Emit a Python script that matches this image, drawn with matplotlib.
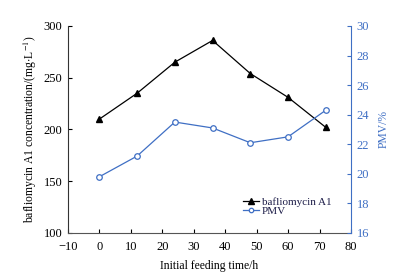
import matplotlib.pyplot as plt
import numpy as np

plt.rcParams['font.family'] = ['Liberation Serif', 'DejaVu Serif']
plt.rcParams['mathtext.fontset'] = 'stix'

# data
hours = [0, 12, 24, 36, 48, 60, 72]
bafilomycin = [210, 235, 265, 286, 254, 231, 202]
pmv = [19.8, 21.2, 23.5, 23.1, 22.1, 22.5, 24.3]

blue = "#3f6fc4"

fig = plt.figure(figsize=(4.02, 2.76), dpi=100)
ax = fig.add_axes([0.169, 0.156, 0.704, 0.75])
ax2 = ax.twinx()

l1, = ax.plot(hours, bafilomycin, color="black", lw=0.9, marker="^", ms=5,
              label="bafliomycin A1")
l2, = ax2.plot(hours, pmv, color=blue, lw=0.9, marker="o", ms=4,
               mfc="white", mec=blue, mew=0.9, label="PMV")

ax.set_xlim(-10, 80)
ax.set_ylim(100, 300)
ax.set_xticks(np.arange(-10, 81, 10))
ax.set_yticks(np.arange(100, 301, 50))
ax2.set_ylim(16, 30)
ax2.set_yticks(np.arange(16, 31, 2))

for a in (ax, ax2):
    a.spines["top"].set_visible(False)
ax.spines["right"].set_visible(False)
ax.spines["left"].set_color("#333333")
ax.spines["bottom"].set_color("#555555")
ax2.spines["left"].set_visible(False)
ax2.spines["bottom"].set_visible(False)
ax2.spines["right"].set_color(blue)

ax.tick_params(direction="in", length=3, labelsize=9, pad=4)
ax.tick_params(axis="x", pad=6)
ax2.tick_params(direction="in", length=3, labelsize=9, colors=blue, pad=4)

ax.set_xlabel("Initial feeding time/h", fontsize=8.4, labelpad=5)
ax.set_ylabel(r"bafliomycin A1 concentration/(mg$\cdot$L$^{-1}$)", fontsize=8.4,
              labelpad=3)
ax2.set_ylabel("PMV/%", fontsize=8.4, color=blue, labelpad=6)

leg = ax.legend(handles=[l1, l2], loc="upper left", bbox_to_anchor=(0.6, 0.2),
                frameon=False, fontsize=8, handlelength=1.4, handletextpad=0.3,
                labelspacing=-0.1, borderpad=0, markerscale=0.8)
for t in leg.get_texts():
    t.set_color("#1c1c48")

fig.savefig("out.png", dpi=100)
